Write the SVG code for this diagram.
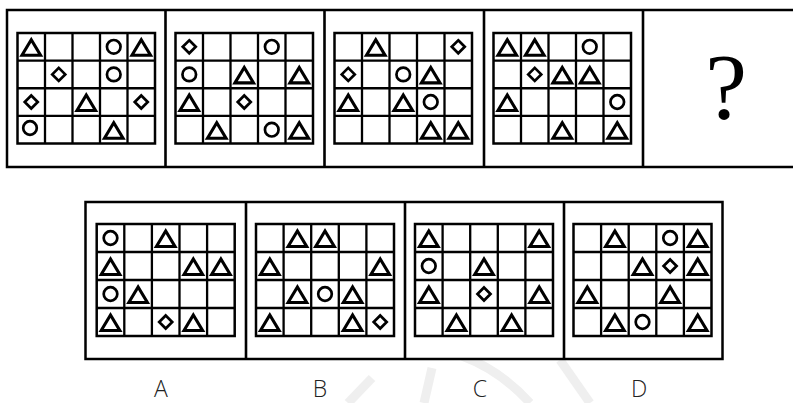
<svg xmlns="http://www.w3.org/2000/svg" xmlns:xlink="http://www.w3.org/1999/xlink" width="793" height="403" viewBox="0 0 793 403">
<style>
.panel{fill:#fff;stroke:#000;stroke-width:2.5}
.grid{fill:#fff;stroke:#000;stroke-width:2.5}
.gl{fill:none;stroke:#000;stroke-width:2.3}
.sh{fill:none;stroke:#000;stroke-width:2.7;stroke-linejoin:miter}
.tri{fill:none;stroke:#000;stroke-width:3.1;stroke-linejoin:miter}
.lbl{font-family:"Open Sans","Noto Sans",sans-serif;font-weight:300;font-size:23px;fill:#222;text-anchor:middle}
.wm{fill:none;stroke:#efefef;stroke-width:9;stroke-linecap:butt}
</style>
<defs>
<path id="T" class="tri" d="M-9.3,7.5 L0,-8 L9.3,7.5 Z"/>
<circle id="O" class="sh" r="6.8"/>
<path id="D" class="sh" d="M0,-6.5 L6.5,0 L0,6.5 L-6.5,0 Z"/>
<path id="gtop" class="gl" d="M27.5,0V110.5M55,0V110.5M82.5,0V110.5M110,0V110.5M0,27.6H137.5M0,55.25H137.5M0,82.9H137.5"/>
<path id="gbot" class="gl" d="M27.6,0V112M55.2,0V112M82.8,0V112M110.4,0V112M0,28H138M0,56H138M0,84H138"/>
</defs>

<g id="watermark">
<path class="wm" d="M432,368 L424,403"/>
<path class="wm" d="M372,378 L348,403"/>
<path class="wm" d="M462,356 Q500,370 530,403"/>
<path class="wm" d="M560,360 L590,403"/>
</g>

<g id="frames">
<rect class="panel" x="7" y="10" width="810" height="157"/>
<path fill="none" stroke="#000" stroke-width="2.6" d="M165.5,10V167M324.5,10V167M484,10V167M643,10V167"/>
<rect class="panel" x="85.5" y="202" width="637" height="157"/>
<path fill="none" stroke="#000" stroke-width="2.6" d="M246,202V359M405,202V359M564,202V359"/>
</g>

<g id="p1" transform="translate(17.5,33)">
<rect class="grid" width="137.5" height="110.5"/><use href="#gtop"/>
<use href="#T" x="13.75" y="14.8"/><use href="#O" x="96.25" y="13.8"/><use href="#T" x="123.75" y="14.8"/>
<use href="#D" x="41.25" y="41.4"/><use href="#O" x="96.25" y="41.4"/>
<use href="#D" x="13.75" y="69"/><use href="#T" x="68.75" y="70"/><use href="#D" x="123.75" y="69"/>
<use href="#O" x="12.5" y="95"/><use href="#T" x="96.25" y="97.7"/>
</g>

<g id="p2" transform="translate(175.5,33)">
<rect class="grid" width="137.5" height="110.5"/><use href="#gtop"/>
<use href="#D" x="13.75" y="13.8"/><use href="#O" x="96.25" y="13.8"/>
<use href="#O" x="13.75" y="41.4"/><use href="#T" x="68.75" y="42.4"/><use href="#T" x="123.75" y="42.4"/>
<use href="#T" x="13.75" y="70"/><use href="#D" x="68.75" y="69"/>
<use href="#T" x="41.25" y="97.7"/><use href="#O" x="96.25" y="96.7"/><use href="#T" x="123.75" y="97.7"/>
</g>

<g id="p3" transform="translate(334.5,33)">
<rect class="grid" width="137.5" height="110.5"/><use href="#gtop"/>
<use href="#T" x="41.25" y="14.8"/><use href="#D" x="123.75" y="13.8"/>
<use href="#D" x="13.75" y="41.4"/><use href="#O" x="68.75" y="41.4"/><use href="#T" x="96.25" y="42.4"/>
<use href="#T" x="13.75" y="70"/><use href="#T" x="68.75" y="70"/><use href="#O" x="96.25" y="69"/>
<use href="#T" x="96.25" y="97.7"/><use href="#T" x="123.75" y="97.7"/>
</g>

<g id="p4" transform="translate(493.5,33)">
<rect class="grid" width="137.5" height="110.5"/><use href="#gtop"/>
<use href="#T" x="13.75" y="14.8"/><use href="#T" x="41.25" y="14.8"/><use href="#O" x="96.25" y="13.8"/>
<use href="#D" x="41.25" y="41.4"/><use href="#T" x="68.75" y="42.4"/><use href="#T" x="96.25" y="42.4"/>
<use href="#T" x="13.75" y="70"/><use href="#O" x="123.75" y="69"/>
<use href="#T" x="68.75" y="97.7"/><use href="#T" x="123.75" y="97.7"/>
</g>

<g id="p5">
<text x="726" y="118" font-family="'Liberation Serif',serif" font-size="94" text-anchor="middle" fill="#000">?</text>
</g>

<g id="optA" transform="translate(96.7,224)">
<rect class="grid" width="138" height="112"/><use href="#gbot"/>
<use href="#O" x="13.8" y="14"/><use href="#T" x="69" y="15"/>
<use href="#T" x="13.8" y="43"/><use href="#T" x="96.6" y="43"/><use href="#T" x="124.2" y="43"/>
<use href="#O" x="13.8" y="70"/><use href="#T" x="41.4" y="71"/>
<use href="#T" x="13.8" y="99"/><use href="#D" x="69" y="98"/><use href="#T" x="96.6" y="99"/>
</g>

<g id="optB" transform="translate(256,224)">
<rect class="grid" width="138" height="112"/><use href="#gbot"/>
<use href="#T" x="41.4" y="15"/><use href="#T" x="69" y="15"/>
<use href="#T" x="13.8" y="43"/><use href="#T" x="124.2" y="43"/>
<use href="#T" x="41.4" y="71"/><use href="#O" x="69" y="70"/><use href="#T" x="96.6" y="71"/>
<use href="#T" x="13.8" y="99"/><use href="#T" x="96.6" y="99"/><use href="#D" x="124.2" y="98"/>
</g>

<g id="optC" transform="translate(415,224)">
<rect class="grid" width="138" height="112"/><use href="#gbot"/>
<use href="#T" x="13.8" y="15"/><use href="#T" x="124.2" y="15"/>
<use href="#O" x="13.8" y="42"/><use href="#T" x="69" y="43"/>
<use href="#T" x="13.8" y="71"/><use href="#D" x="69" y="70"/><use href="#T" x="124.2" y="71"/>
<use href="#T" x="41.4" y="99"/><use href="#T" x="96.6" y="99"/>
</g>

<g id="optD" transform="translate(573.5,224)">
<rect class="grid" width="138" height="112"/><use href="#gbot"/>
<use href="#T" x="41.4" y="15"/><use href="#O" x="96.6" y="14"/><use href="#T" x="124.2" y="15"/>
<use href="#T" x="69" y="43"/><use href="#D" x="96.6" y="42"/><use href="#T" x="124.2" y="43"/>
<use href="#T" x="13.8" y="71"/><use href="#T" x="96.6" y="71"/>
<use href="#T" x="41.4" y="99"/><use href="#O" x="69" y="98"/><use href="#T" x="124.2" y="99"/>
</g>

<g id="labels">
<text class="lbl" x="161" y="397">A</text>
<text class="lbl" x="320" y="397">B</text>
<text class="lbl" x="480" y="397">C</text>
<text class="lbl" x="639" y="397">D</text>
</g>
</svg>
